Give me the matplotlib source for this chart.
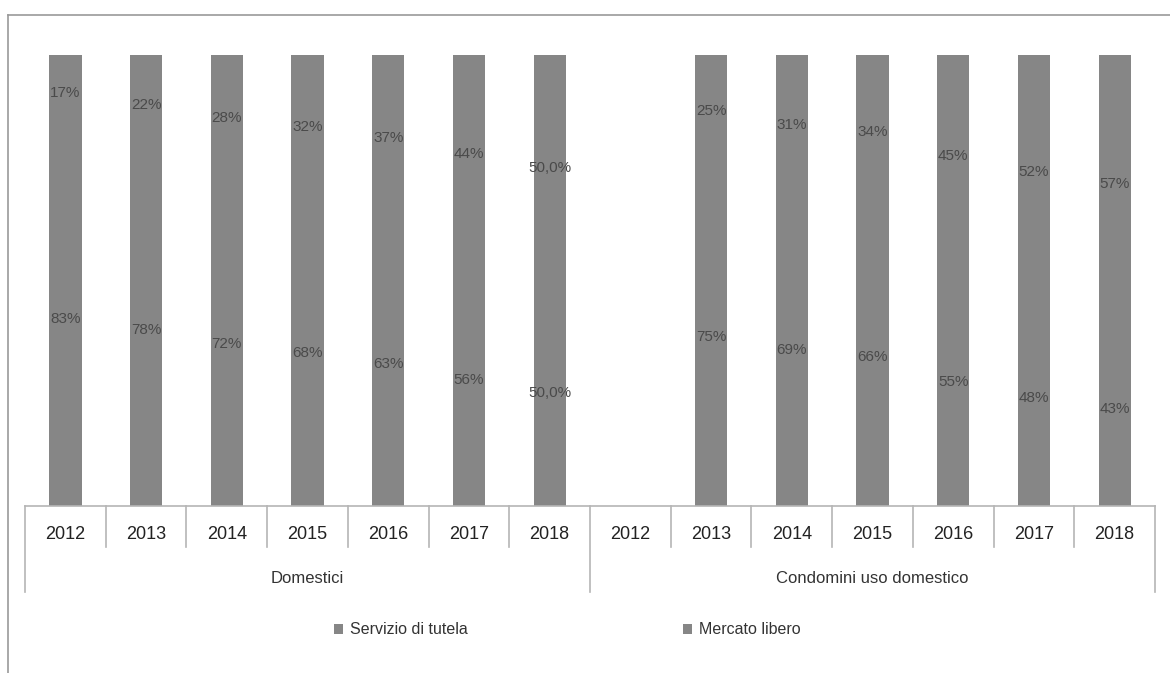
import matplotlib
matplotlib.use("Agg")
import matplotlib.pyplot as plt
from matplotlib.patches import Patch
from matplotlib.lines import Line2D
import numpy as np

plt.rcParams['font.family'] = ['Liberation Sans', 'DejaVu Sans']

groups = ["Domestici", "Condomini uso domestico"]
years = ["2012", "2013", "2014", "2015", "2016", "2017", "2018"]
servizio_tutela = [83, 78, 72, 68, 63, 56, 50.0,
                   np.nan, 75, 69, 66, 55, 48, 43]
mercato_libero = [17, 22, 28, 32, 37, 44, 50.0,
                  np.nan, 25, 31, 34, 45, 52, 57]
label_tutela = ["83%", "78%", "72%", "68%", "63%", "56%", "50,0%",
                "", "75%", "69%", "66%", "55%", "48%", "43%"]
label_libero = ["17%", "22%", "28%", "32%", "37%", "44%", "50,0%",
                "", "25%", "31%", "34%", "45%", "52%", "57%"]
series_names = ["Servizio di tutela", "Mercato libero"]

bar_color = "#868686"
label_color = "#4a4a4a"
line_color = "#b5b5b5"

fig = plt.figure(figsize=(11.7, 6.73), dpi=100)
ax = fig.add_axes([25/1170, 1-506/673, 1130/1170, 451/673])

n = len(servizio_tutela)
x = np.arange(n)
st = np.array(servizio_tutela, dtype=float)
ml = np.array(mercato_libero, dtype=float)
ax.bar(x, st, width=0.4, color=bar_color, zorder=2)
ax.bar(x, ml, width=0.4, bottom=st, color=bar_color, zorder=2)

for i in range(n):
    if np.isnan(st[i]):
        continue
    ax.text(x[i], st[i] / 2, label_tutela[i], ha="center", va="center",
            fontsize=11, color=label_color, zorder=3)
    ax.text(x[i], st[i] + ml[i] / 2, label_libero[i], ha="center", va="center",
            fontsize=11, color=label_color, zorder=3)

ax.set_xlim(-0.5, n - 0.5)
ax.set_ylim(0, 100)
ax.axis("off")

trans = ax.get_xaxis_transform()
# baseline
ax.add_line(Line2D([-0.5, n - 0.5], [0, 0], transform=trans, color=line_color,
                   lw=1.2, clip_on=False))
year_bottom = -0.091
group_bottom = -0.19
ny = len(years)
for i in range(n + 1):
    xb = i - 0.5
    if i % ny == 0:
        yb = group_bottom
    else:
        yb = year_bottom
    ax.add_line(Line2D([xb, xb], [0, yb], transform=trans, color=line_color,
                       lw=1.2, clip_on=False))

for g, gname in enumerate(groups):
    for j, yr in enumerate(years):
        ax.text(g * ny + j, -0.064, yr, transform=trans, ha="center", va="center",
                fontsize=13, color="#222222")
    ax.text(g * ny + (ny - 1) / 2, -0.16, gname, transform=trans, ha="center",
            va="center", fontsize=12, color="#333333")

# outer frame (left and top)
fig.add_artist(Line2D([8/1170, 8/1170], [0, 1-15/673], transform=fig.transFigure,
                      color="#999999", lw=1.2))
fig.add_artist(Line2D([8/1170, 1], [1-15/673, 1-15/673], transform=fig.transFigure,
                      color="#999999", lw=1.2))

handles = [Patch(facecolor=bar_color, edgecolor="none", label=s) for s in series_names]
fig.legend(handles=handles, loc="center", bbox_to_anchor=(567/1170, 1-630/673),
           ncol=2, frameon=False, fontsize=11.5, handlelength=0.6, handleheight=0.6,
           handletextpad=0.4, columnspacing=13.5, labelcolor="#333333")

fig.savefig("out.png", dpi=100)
